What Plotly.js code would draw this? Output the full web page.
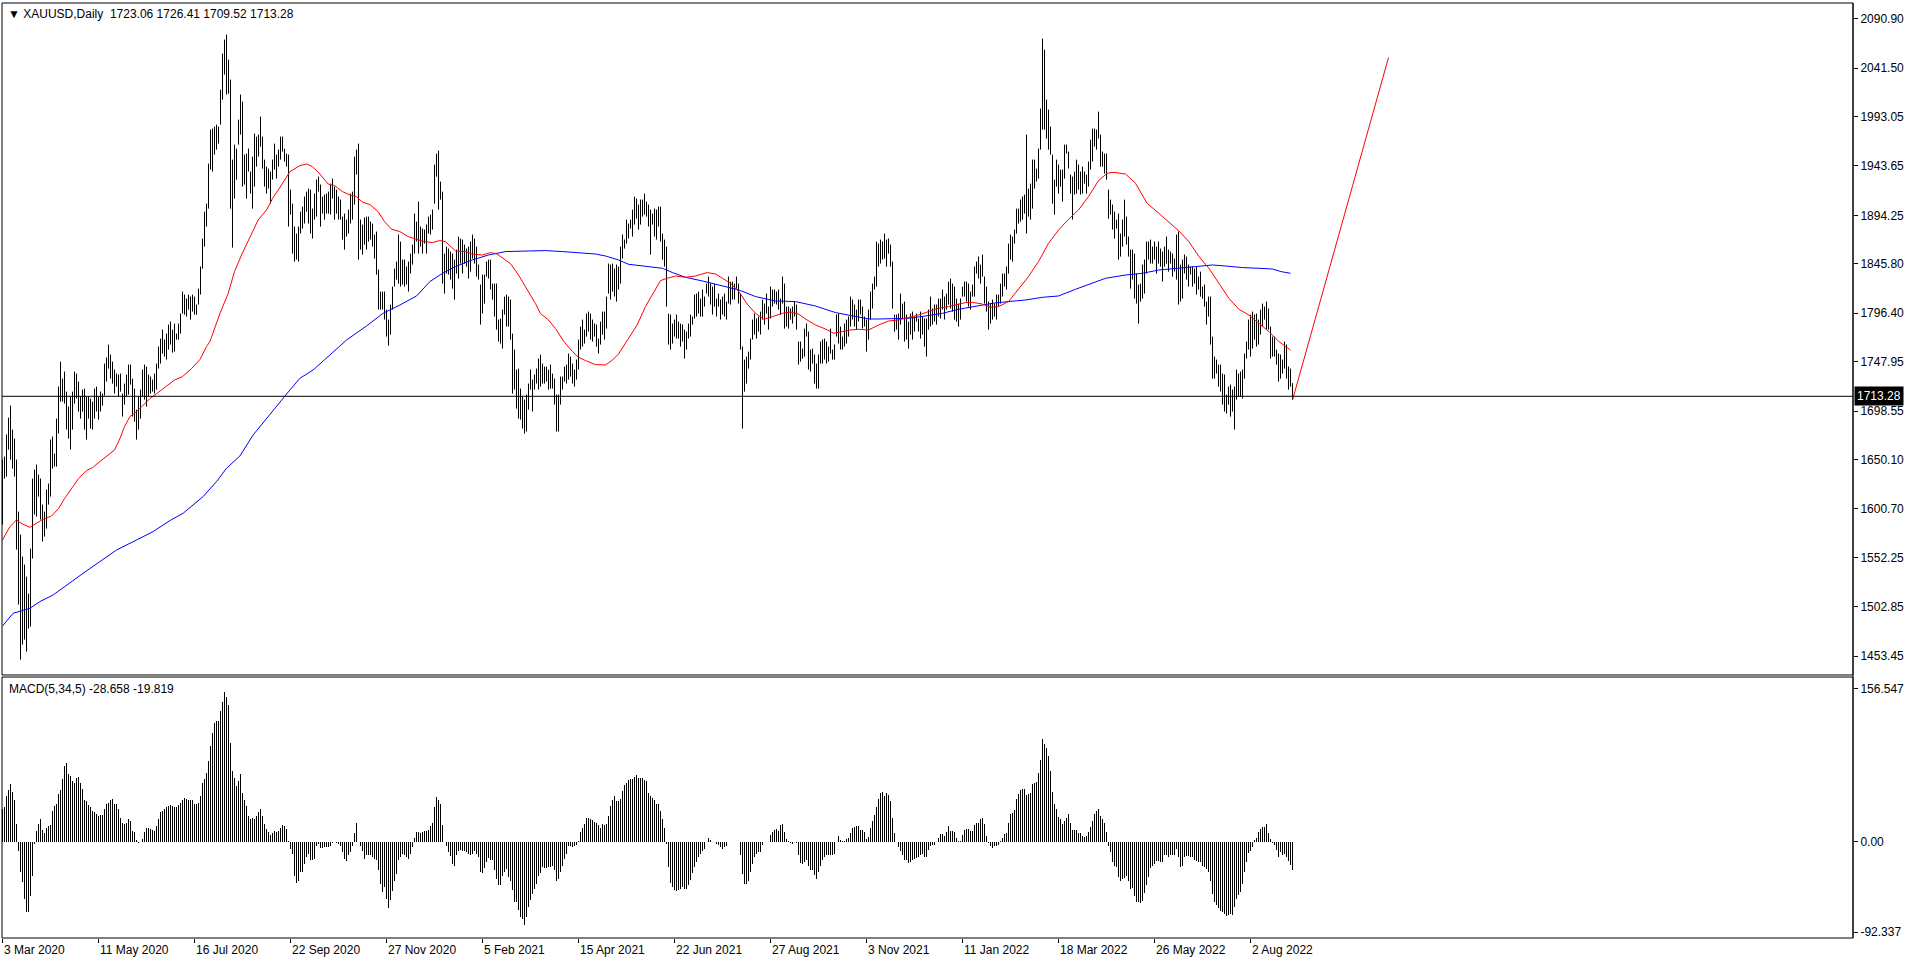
<!DOCTYPE html>
<html><head><meta charset="utf-8">
<script src="https://cdn.plot.ly/plotly-3.0.1.min.js"></script>
<style>html,body{margin:0;padding:0;background:#fff;overflow:hidden}#chart{width:1916px;height:962px}</style>
</head><body><div id="chart"></div>
<script>
// Daily XAUUSD bars, 3 Mar 2020 (index 0) .. 31 Aug 2022 (index 645)
const highs = [
1650,1653,1675,1692,1704,1680,1671,1650,1598,1575,
1553,1545,1533,1516,1561,1631,1640,1645,1635,1631,
1605,1598,1620,1626,1670,1673,1656,1691,1723,1748,
1731,1738,1718,1703,1713,1718,1738,1736,1728,1713,
1720,1721,1713,1713,1711,1708,1721,1723,1713,1718,
1716,1746,1752,1765,1755,1748,1740,1736,1735,1736,
1716,1726,1735,1745,1745,1731,1721,1700,1713,1720,
1740,1745,1743,1735,1733,1730,1736,1746,1763,1771,
1780,1770,1776,1785,1788,1780,1786,1776,1786,1796,
1818,1815,1811,1815,1813,1815,1813,1805,1821,1843,
1871,1898,1906,1946,1980,1981,1983,1985,1983,2020,
2056,2070,2075,2050,2030,1950,1965,1961,1990,2015,
2008,1955,1956,1961,1938,1953,1976,1973,1975,1993,
1973,1950,1943,1941,1938,1950,1966,1955,1960,1973,
1973,1961,1956,1955,1920,1906,1883,1876,1883,1898,
1903,1913,1918,1921,1920,1901,1916,1930,1933,1925,
1913,1915,1916,1918,1926,1931,1923,1920,1913,1910,
1893,1896,1890,1900,1916,1918,1953,1960,1966,1890,
1885,1892,1893,1893,1888,1886,1875,1878,1840,1818,
1818,1818,1800,1790,1805,1823,1841,1848,1875,1868,
1850,1850,1843,1848,1856,1865,1896,1888,1908,1883,
1881,1880,1885,1893,1895,1900,1945,1956,1959,1928,
1918,1856,1863,1861,1858,1856,1850,1860,1873,1871,
1870,1865,1861,1863,1868,1875,1871,1863,1845,1825,
1835,1835,1848,1850,1850,1826,1826,1826,1790,1791,
1800,1813,1815,1813,1810,1776,1760,1740,1741,1721,
1713,1710,1715,1726,1740,1730,1735,1741,1751,1755,
1746,1743,1743,1740,1745,1736,1731,1715,1715,1733,
1733,1743,1745,1756,1753,1746,1740,1750,1770,1783,
1790,1780,1796,1798,1796,1790,1786,1785,1771,1788,
1798,1798,1813,1846,1845,1846,1841,1845,1843,1863,
1875,1870,1890,1886,1890,1900,1913,1911,1905,1910,
1910,1916,1908,1905,1900,1896,1901,1900,1903,1903,
1876,1870,1863,1796,1795,1786,1790,1795,1788,1786,
1785,1780,1778,1786,1795,1793,1815,1816,1818,1811,
1820,1813,1826,1833,1826,1823,1826,1811,1816,1810,
1813,1816,1808,1833,1828,1828,1826,1833,1826,1816,
1763,1750,1753,1758,1771,1790,1796,1791,1793,1798,
1810,1806,1816,1803,1823,1820,1820,1818,1820,1811,
1833,1826,1803,1803,1801,1803,1808,1805,1768,1768,
1761,1781,1786,1778,1760,1761,1755,1746,1755,1768,
1770,1771,1768,1763,1781,1760,1765,1795,1796,1783,
1773,1786,1790,1793,1813,1810,1805,1800,1810,1810,
1803,1793,1790,1800,1818,1826,1833,1868,1866,1870,
1868,1876,1870,1871,1865,1848,1795,1795,1796,1816,
1806,1808,1795,1788,1796,1798,1793,1796,1791,1798,
1793,1791,1791,1800,1813,1801,1805,1805,1811,1811,
1820,1813,1816,1828,1831,1826,1823,1811,1806,1811,
1823,1828,1828,1826,1818,1825,1843,1848,1853,1845,
1855,1833,1823,1808,1806,1810,1806,1815,1815,1826,
1836,1836,1843,1866,1875,1873,1880,1901,1901,1910,
1913,1915,1975,1921,1926,1950,1950,1941,1961,2001,
2071,2060,2010,2000,1983,1955,1930,1950,1945,1940,
1940,1965,1965,1958,1935,1933,1938,1950,1945,1938,
1943,1938,1935,1948,1970,1981,1981,1980,1998,1975,
1958,1956,1956,1920,1910,1905,1898,1890,1896,1876,
1890,1910,1893,1873,1860,1860,1856,1836,1825,1826,
1845,1850,1868,1868,1870,1863,1868,1863,1868,1861,
1858,1863,1873,1860,1858,1856,1851,1875,1878,1845,
1850,1855,1853,1845,1843,1843,1841,1843,1833,1838,
1823,1825,1808,1813,1813,1773,1753,1750,1745,1745,
1736,1735,1715,1723,1725,1720,1723,1740,1736,1738,
1740,1756,1768,1790,1795,1798,1795,1796,1790,1800,
1806,1803,1808,1801,1783,1773,1773,1760,1756,1755,
1750,1768,1765,1743,1741,1726.41];
const lows = [
1585,1631,1633,1660,1650,1641,1633,1560,1505,1450,
1465,1470,1458,1481,1483,1551,1595,1593,1613,1590,
1568,1573,1581,1605,1613,1641,1643,1643,1676,1708,
1708,1706,1680,1671,1660,1680,1706,1711,1698,1691,
1698,1680,1670,1691,1681,1680,1691,1698,1690,1698,
1704,1714,1728,1741,1731,1726,1716,1723,1713,1718,
1693,1705,1713,1715,1725,1693,1688,1670,1680,1691,
1713,1710,1703,1713,1716,1718,1716,1720,1741,1746,
1756,1753,1750,1760,1765,1757,1758,1770,1770,1776,
1796,1795,1793,1800,1790,1798,1795,1795,1805,1815,
1841,1863,1883,1901,1940,1938,1955,1960,1966,1985,
2010,2035,2015,2016,1901,1862,1911,1930,1965,1975,
1923,1925,1911,1938,1916,1901,1923,1943,1953,1963,
1941,1923,1916,1921,1906,1930,1940,1931,1943,1950,
1958,1948,1943,1883,1895,1856,1848,1850,1848,1876,
1881,1886,1898,1886,1876,1871,1890,1893,1918,1883,
1896,1890,1896,1896,1895,1911,1890,1896,1890,1890,
1870,1860,1873,1876,1886,1890,1905,1935,1850,1860,
1855,1865,1860,1868,1870,1863,1851,1835,1800,1800,
1800,1790,1773,1764,1775,1800,1823,1830,1826,1823,
1825,1823,1825,1818,1836,1845,1856,1868,1856,1863,
1856,1866,1856,1876,1875,1880,1906,1933,1900,1910,
1826,1816,1836,1835,1830,1821,1810,1836,1831,1846,
1836,1846,1843,1831,1838,1851,1846,1833,1830,1785,
1796,1806,1833,1831,1820,1810,1793,1780,1768,1766,
1761,1795,1783,1783,1770,1716,1720,1701,1691,1690,
1681,1676,1678,1700,1720,1698,1720,1726,1720,1723,
1726,1726,1728,1720,1721,1721,1705,1678,1678,1705,
1720,1728,1726,1730,1733,1726,1723,1730,1740,1760,
1763,1766,1773,1778,1770,1768,1773,1763,1756,1765,
1775,1770,1781,1816,1810,1818,1813,1808,1820,1826,
1851,1861,1866,1871,1881,1873,1885,1891,1880,1885,
1893,1895,1893,1883,1855,1885,1873,1870,1883,1868,
1850,1843,1803,1765,1760,1766,1773,1771,1771,1763,
1768,1751,1760,1771,1773,1785,1791,1793,1796,1793,
1793,1803,1816,1813,1805,1795,1803,1793,1803,1790,
1795,1793,1790,1806,1805,1810,1810,1821,1806,1760,
1681,1718,1726,1741,1750,1770,1775,1771,1778,1775,
1790,1785,1796,1780,1791,1803,1806,1805,1800,1795,
1806,1781,1783,1781,1790,1786,1793,1780,1745,1748,
1751,1753,1773,1740,1738,1746,1726,1721,1721,1746,
1746,1750,1746,1748,1756,1750,1750,1773,1766,1760,
1760,1763,1766,1773,1783,1790,1783,1780,1788,1795,
1781,1783,1758,1770,1790,1801,1820,1823,1843,1846,
1850,1851,1843,1856,1843,1801,1778,1780,1770,1785,
1791,1768,1770,1761,1775,1770,1778,1788,1778,1771,
1775,1763,1753,1780,1783,1785,1788,1785,1793,1791,
1800,1790,1800,1805,1801,1798,1790,1788,1783,1790,
1813,1813,1808,1803,1800,1813,1813,1836,1831,1826,
1833,1806,1798,1780,1786,1790,1793,1790,1803,1806,
1813,1823,1820,1836,1850,1848,1866,1876,1886,1888,
1890,1896,1876,1893,1890,1901,1921,1928,1931,1960,
1980,1980,1971,1960,1955,1906,1895,1923,1916,1923,
1908,1931,1956,1941,1916,1890,1915,1916,1920,1915,
1916,1926,1916,1923,1940,1948,1963,1960,1971,1943,
1943,1936,1930,1891,1895,1880,1871,1881,1850,1853,
1863,1873,1865,1853,1821,1830,1811,1806,1786,1808,
1811,1816,1836,1850,1846,1846,1850,1836,1846,1843,
1828,1843,1846,1838,1846,1833,1838,1830,1805,1808,
1811,1836,1830,1823,1835,1823,1826,1815,1820,1813,
1811,1803,1785,1793,1765,1731,1731,1736,1723,1718,
1705,1698,1696,1705,1693,1698,1680,1710,1713,1713,
1711,1731,1751,1760,1753,1761,1770,1763,1765,1775,
1783,1790,1780,1780,1751,1753,1753,1745,1728,1731,
1736,1741,1731,1720,1723,1709.52];
const macd = [
33,35,47,53,58.5,51,43,18,-9,-31,
-41,-58,-72,-72,-55,-35,-2,11,18,23,
12,9,14.5,16,17,31,36.5,38,49,53,
63.6,77,80.5,68.7,67,62,60,65,66,60,
53.5,43,41.6,37,35,31.5,30.5,28,26,27,
27,33,39,40,42.6,44,39,38,33,23.7,
19.6,18,19,23,21,11,9.5,1.7,-1.4,0,
2.7,9.5,13.5,14,13,12,11,16,23,30,
31.5,33,35,36.5,37,36,35.5,35.5,37,40,
43,45,44,42.6,43,42.6,38,39,40,46.7,
60,63.6,70,82,97.5,111,121,123,123,133,
143,152.6,148,140,101,72,65,57,62,68.7,
50,43,36.5,26,23,24.7,23,26,30,33,
26,18,13,9.5,6.8,8.8,11,10,11,14.5,
17,16,13,1,-7.4,-12.5,-34.5,-42,-39.6,-31,
-31,-22.7,-16,-12.5,-19,-19,-17.6,-4,-2.4,-6.8,
-6.8,-5.8,-5.8,-5.8,-4,-1.4,-0.7,-1.4,-2.4,-4,
-10.8,-17.6,-20,-14,-10.8,-4,8.8,19,0,-4,
-9,-17.6,-13.5,-14,-14,-16,-17.6,-19,-29,-43,
-51,-46,-58,-68,-60,-50,-39.6,-33,-19,-16,
-12.5,-14,-16,-17.6,-12.5,-5.8,3.4,9.5,10,8.8,
9.5,11,11,12,16,19,35,46,43,39,
17,-0.7,-4,-10.8,-15,-22.7,-24.4,-14,-9,-8,
-9,-9,-10.8,-12.5,-14,-12.5,-9,-12.5,-16,-30.5,
-32,-27,-21,-17,-19,-19,-28.4,-38,-44,-44,
-34.5,-31,-27.7,-36,-39.6,-49.7,-61.6,-61.6,-70,-76.8,
-78.5,-85.3,-76.8,-66.7,-60,-53,-48,-43,-34.5,-32,
-26,-27,-26.7,-26,-26,-24.4,-28.4,-39.6,-38,-30.5,
-25,-17.6,-12.5,-4,-4,-5.8,-4,-3.4,1,9.5,
13.5,18,23.7,24.7,23,22.3,20.6,19.6,17.3,14.5,
18,17.3,18,26.4,36.5,42.6,46.7,41.6,41.6,43.3,
51.8,57.5,59.6,63,63.6,63.6,66.3,67.7,65.3,65.3,
65.3,62.6,62,49.4,46.7,45,42.6,38.2,38.2,31.5,
23,14.5,-2.4,-26,-42,-46.4,-49.7,-50.8,-49.7,-48,
-46.4,-48.7,-48,-44.7,-38.6,-32,-26,-20.3,-16,-12.5,
-9,-7.4,-0.7,3.4,1.7,0,-0.7,-2.4,-3,-5.8,
-7.4,-5.8,-4,0,0,0,0,0,-0.7,-14,
-33,-43,-43,-40.6,-31,-22.7,-16,-12.5,-10.8,-10,
-3.4,-0.7,0,0,6.8,9.5,12,12.9,11,17,
18,9.5,2.7,1,-1.4,-2.7,-0.7,-1.4,-14,-21.7,
-22.7,-20.3,-19,-24.4,-28.4,-28.4,-33.8,-38,-30.5,-24.4,
-18.3,-16,-13.5,-13.5,-14,-14,-12.5,-0.7,5.4,1.7,
0.7,1,2.7,3.4,8.8,14.5,15.2,16.2,15.6,12,
12,9.5,2.7,4.4,13.9,21.3,27,35.9,44,49.4,
50.8,46.7,49.4,47.4,41.6,23.7,8.8,0,-5.8,-9,
-13.5,-18.3,-18.3,-22,-20.3,-18.6,-17.6,-17,-16,-14,
-12.5,-15.2,-15.2,-8,-4.7,-3.4,-3,-0.7,3.7,7.8,
7.8,5.4,9.5,15.6,10.5,10.5,9.5,3.7,0.7,0.7,
6.8,11.8,12.9,12.9,10.5,10.5,17,19.6,19.6,23,
24.7,18,5.4,-1.4,-4.7,-6.8,-4.7,-4,-3.4,1,
3.7,7.8,8.8,19,28,29,32,43.3,48.4,52.8,
53.5,54,47.4,48.4,50,58.5,59.6,61,70.4,83.2,
105,100,95.8,88,72,50.8,38.2,33.8,25.4,23,
18,21.3,23.7,28,19,11.8,11.8,11.8,8.8,8.8,
5.4,4.4,5.4,9.5,15.2,21.3,28,31.5,33,26.4,
23,19,9.5,-4,-10.8,-21,-25,-26,-36,-40.6,
-38,-37.2,-34.5,-39.6,-48,-47.4,-55.5,-61.6,-61.6,-62.6,
-61,-52.5,-44.7,-36,-27,-25,-22.7,-19.3,-19.3,-21,
-21,-13.2,-13.2,-16,-14,-13.2,-13.2,-7.4,-16,-26,
-24.4,-16,-15,-15,-16,-16,-18.3,-19.3,-20.3,-21,
-24.4,-26,-27.7,-30.5,-39.6,-53,-61.6,-65,-67.7,-71,
-71.7,-73.4,-75.8,-75,-73.4,-74.4,-66.7,-58,-54.8,-51.4,
-43,-31,-21,-11.8,-9.8,-5.8,2,3.4,9.5,12.9,
15.2,15.2,18,8.8,2.7,-1.4,-3.4,-8,-16,-10,
-14,-12.5,-16,-19.3,-23.4,-28.658];

// Moving averages (bar index, price)
const maRedDays = [0,3.7,7,10,13.7,17,20,24.5,28,31,34.5,38,42,45,48.7,52,56,58.7,61,63.7,67,70,73.7,77.8,82,86,90,94.5,98.7,102,103.7,108.7,112.8,116,119.5,123.7,127.8,132,135,139.5,143.7,148.7,152,155,158.7,162.8,166,170,173.7,177,179.5,183.7,187.8,191,194.5,198.7,202.8,207,211,215,218.7,221.5,226.5,231.5,234.8,240,244,247.3,250.7,254,258,262.3,266.5,269,273,276.5,280.7,285,288,291.5,296.5,301.5,305,308,313,317.3,321.5,325.7,329,332.3,336.5,341.5,346.5,352.3,356.5,360,364,368.2,372.3,376.5,380.7,385,390,394,398.2,402.3,406.5,411.5,415.7,420,424,428.2,433,438,443,448,453,458,463,468,473,478,481.5,485.7,489.8,494,498,503,508,513,518,523,528,533,538,543,548,552.3,555.7,561.5,566.5,572.3,578.2,583.2,588.2,593.2,598.2,603.2,608.2,613.2,618.2,623.2,628.2,633.2,638.2,644];
const maRedVals = [1569.6,1583,1589.6,1585.6,1582.3,1586,1590,1593.6,1601,1611,1621,1631,1639,1642,1648,1653,1659.6,1671,1683,1693,1698,1703.6,1711,1717,1723,1729.6,1733,1741,1750,1763,1768,1796,1816,1838,1854.6,1873,1889.6,1899.6,1911,1924.6,1938,1944,1945.6,1943,1935.6,1925.6,1924,1918,1914.6,1913,1908,1905,1898,1888,1880.3,1878,1873,1870.3,1868,1867,1869,1868,1858.6,1858,1855.6,1854.6,1857,1855.6,1850.3,1846,1834.6,1820,1806,1796,1789.6,1781,1768,1758,1752.3,1749,1745,1744.6,1749.6,1755.6,1771.3,1784.6,1803,1818,1829,1831.3,1833.6,1832.3,1833.6,1837,1835.6,1831.3,1826.3,1818,1805.6,1796.3,1790.3,1793,1796.3,1797.6,1795.3,1789.6,1784.6,1780.6,1776.3,1778,1779.6,1780.3,1779.6,1784.6,1788.6,1789.6,1792,1794.6,1798,1801.3,1803,1805.6,1807,1807,1805.6,1802.3,1803,1808,1820.3,1833,1848,1866.3,1879.6,1890.3,1899.6,1913,1929,1936.3,1937.3,1935.6,1926.3,1906.3,1896.3,1887,1878.6,1868,1853,1841.3,1826.3,1811.3,1800.3,1794.6,1786.3,1778,1768,1759.6];
const maBlueDays = [0,5.3,13.7,18.7,25.3,32,40.3,48.7,57,67,75.3,83.7,90.3,100.3,107,112,118.7,125.3,132,138.7,143.7,148.7,155.3,163.7,172,182,190.3,198.7,207,213.7,220,226.5,234.8,243,251.5,263,271.5,280,288,296.5,301.5,308,313,321.5,330,335,341.5,350,358,368.2,376.5,386.5,396.5,406.5,416.5,424.8,433.2,438,453,461.5,470,478,486.5,495,503,511.5,520,528,536.5,545,551.5,561.5,570,578.2,586.5,595,605,611.5,620,628.2,635,639.2,644];
const maBlueVals = [1483.6,1496.3,1501.3,1508,1514.6,1524.6,1536.3,1548,1559.6,1569.6,1578,1589,1596.3,1613,1628,1641.3,1653.6,1674.6,1691.3,1708,1719.6,1731.3,1739.6,1754.6,1769.6,1783.6,1796.3,1804.6,1813.6,1828,1836.3,1843,1849.6,1854.6,1858,1858.6,1859,1858,1857,1855.6,1853.6,1849.6,1845.3,1843,1841.3,1837,1832.3,1828.6,1824.6,1819.6,1813,1808.6,1808,1803.6,1797,1794,1790.6,1790.6,1791.3,1793.6,1796.3,1800.3,1803.6,1806.3,1808,1809.6,1812.3,1813.6,1820.3,1826.3,1831.3,1834.6,1836.3,1839.6,1841.3,1843,1844.6,1843.6,1842,1841.3,1840.6,1838,1836.3];

// Drawn trend line and current bid
const trendDays = [645, 693];
const trendVals = [1709.52, 2052];
const bidPrice = 1713.28;

// Axis labels
const priceTicks = [2090.90,2041.50,1993.05,1943.65,1894.25,1845.80,1796.40,1747.95,1698.55,1650.10,1600.70,1552.25,1502.85,1453.45];
const priceTickText = ['2090.90','2041.50','1993.05','1943.65','1894.25','1845.80','1796.40','1747.95','1698.55','1650.10','1600.70','1552.25','1502.85','1453.45'];
const macdTicks = [156.547, 0, -92.337];
const macdTickText = ['156.547','0.00','-92.337'];
const dateTickDays = [0,48,96,144,192,240,288,336,384,432,480,528,576,624];
const dateTickLabels = ['3 Mar 2020','11 May 2020','16 Jul 2020','22 Sep 2020','27 Nov 2020','5 Feb 2021','15 Apr 2021','22 Jun 2021','27 Aug 2021','3 Nov 2021','11 Jan 2022','18 Mar 2022','26 May 2022','2 Aug 2022'];
const headerText = 'XAUUSD,Daily  1723.06 1726.41 1709.52 1713.28';
const macdText = 'MACD(5,34,5) -28.658 -19.819';

const FONT = 'Liberation Sans, Arial, sans-serif';

// Build high-low segments for the bar chart
const barX = [], barY = [];
highs.forEach((h, i) => { barX.push(i, i, null); barY.push(lows[i], h, null); });
const idx = macd.map((_, i) => i);

const traces = [
  {type:'scatter', mode:'lines', x:barX, y:barY, xaxis:'x', yaxis:'y',
   line:{color:'#000000', width:1}, hoverinfo:'skip', connectgaps:false},
  {type:'scatter', mode:'lines', x:maBlueDays, y:maBlueVals, xaxis:'x', yaxis:'y',
   line:{color:'#0000FF', width:1}, hoverinfo:'skip'},
  {type:'scatter', mode:'lines', x:maRedDays, y:maRedVals, xaxis:'x', yaxis:'y',
   line:{color:'#FF0000', width:1}, hoverinfo:'skip'},
  {type:'scatter', mode:'lines', x:trendDays, y:trendVals, xaxis:'x', yaxis:'y',
   line:{color:'#FF0000', width:1}, hoverinfo:'skip'},
  {type:'bar', x:idx, y:macd, xaxis:'x', yaxis:'y2', width:0.5,
   marker:{color:'#000000', line:{width:0}}, hoverinfo:'skip'}
];

const annotations = [
  {xref:'paper', x:0, xanchor:'left', xshift:4, yref:'y domain', y:1, yanchor:'top', yshift:-2,
   text:'▼ ' + headerText, showarrow:false, font:{family:FONT, size:12, color:'#000'}},
  {xref:'paper', x:0, xanchor:'left', xshift:5, yref:'y2 domain', y:1, yanchor:'top', yshift:-3,
   text:macdText, showarrow:false, font:{family:FONT, size:12, color:'#000'}},
  {xref:'paper', x:1, xanchor:'left', xshift:1, yref:'y', y:bidPrice, yanchor:'middle',
   text:bidPrice.toFixed(2), showarrow:false, bgcolor:'#000000', borderpad:2,
   font:{family:FONT, size:12, color:'#FFFFFF'}}
];
dateTickDays.forEach((d, k) => {
  annotations.push({xref:'x', x:d, xanchor:'left', xshift:-1, yref:'paper', y:0, yanchor:'top', yshift:-3,
    text:dateTickLabels[k], showarrow:false, font:{family:FONT, size:12, color:'#000'}});
});

const layout = {
  width:1916, height:962,
  margin:{l:2, r:63, t:3, b:24, pad:0, autoexpand:false},
  paper_bgcolor:'#FFFFFF', plot_bgcolor:'#FFFFFF',
  showlegend:false, hovermode:false, bargap:0,
  xaxis:{range:[-0.25, 925.25], anchor:'y2', showgrid:false, zeroline:false, showline:false,
         tickmode:'array', tickvals:dateTickDays, showticklabels:false,
         ticks:'outside', ticklen:4, tickcolor:'#000', tickwidth:1, fixedrange:true},
  yaxis:{domain:[0.2813, 1], range:[1434.6, 2106.6], side:'right', anchor:'x',
         showgrid:false, zeroline:false, showline:false,
         tickmode:'array', tickvals:priceTicks, ticktext:priceTickText,
         ticks:'outside', ticklen:4, tickcolor:'#000', tickwidth:1,
         tickfont:{family:FONT, size:12, color:'#000'}, fixedrange:true},
  yaxis2:{domain:[0, 0.2791], range:[-98.3, 168.1], side:'right', anchor:'x',
          showgrid:false, zeroline:false, showline:false,
          tickmode:'array', tickvals:macdTicks, ticktext:macdTickText,
          ticks:'outside', ticklen:4, tickcolor:'#000', tickwidth:1,
          tickfont:{family:FONT, size:12, color:'#000'}, fixedrange:true},
  shapes:[
    {type:'rect', xref:'paper', yref:'y domain', x0:0, x1:1, y0:0, y1:1, line:{color:'#000', width:1}},
    {type:'rect', xref:'paper', yref:'y2 domain', x0:0, x1:1, y0:0, y1:1, line:{color:'#000', width:1}},
    {type:'line', xref:'paper', yref:'paper', x0:1, x1:1, y0:0, y1:1, line:{color:'#000', width:1}},
    {type:'line', xref:'paper', yref:'y', x0:0, x1:1, y0:bidPrice, y1:bidPrice, line:{color:'#000', width:1}}
  ],
  annotations:annotations
};

Plotly.newPlot('chart', traces, layout, {displayModeBar:false, staticPlot:true});
</script>
</body></html>
